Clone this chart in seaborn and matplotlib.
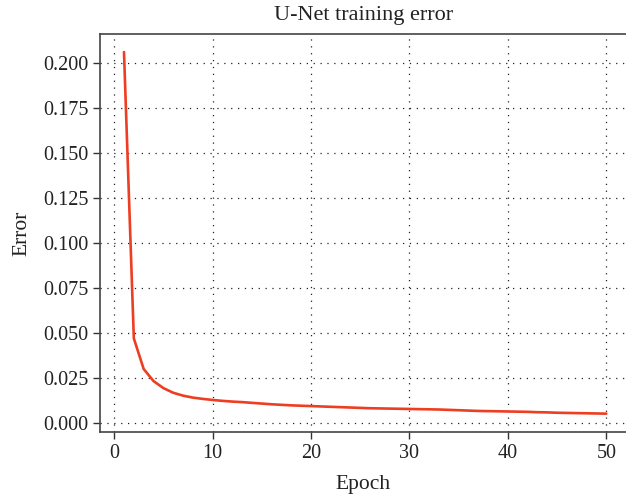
import matplotlib
matplotlib.use("Agg")
import matplotlib.pyplot as plt
import seaborn as sns
import pandas as pd

epochs = list(range(1, 51))
error = [0.206, 0.047, 0.030, 0.0233, 0.0194, 0.0168, 0.0152, 0.0141, 0.0134, 0.0128,
         0.0123, 0.0119, 0.0116, 0.0112, 0.0108, 0.0104, 0.0101, 0.0098, 0.0096, 0.0094,
         0.0092, 0.0090, 0.0088, 0.0086, 0.0084, 0.0082, 0.0081, 0.0080, 0.0079, 0.0078,
         0.0077, 0.0076, 0.0075, 0.0073, 0.0071, 0.0069, 0.0067, 0.0066, 0.0065, 0.0064,
         0.0063, 0.0062, 0.0060, 0.0059, 0.0057, 0.0056, 0.0055, 0.0054, 0.0053, 0.0052]
x_ticks = [0, 10, 20, 30, 40, 50]
y_ticks = [0.000, 0.025, 0.050, 0.075, 0.100, 0.125, 0.150, 0.175, 0.200]

df = pd.DataFrame({"Epoch": epochs, "Error": error})

sns.set_style("ticks")
plt.rcParams['font.family'] = ['Liberation Serif', 'DejaVu Serif']

fig = plt.figure(figsize=(6.26, 4.98), dpi=100)
ax = fig.add_axes([0.16, 0.1325, 0.84, 0.7995])

sns.lineplot(data=df, x="Epoch", y="Error", ax=ax, color="#EE3E22", linewidth=1.9)

ax.set_xlim(-1.42, 52.0)
ax.set_ylim(-0.005, 0.2161)
ax.set_xticks(x_ticks)
ax.set_yticks(y_ticks)
ax.set_yticklabels([f"{v:.3f}" for v in y_ticks])
ax.grid(True, linestyle=(0, (1, 4.5)), color="#222222", linewidth=0.9)

for side in ["left", "bottom", "top"]:
    ax.spines[side].set_color("#444444")
    ax.spines[side].set_linewidth(1.2)
    ax.spines[side].set_visible(True)
ax.spines["right"].set_visible(False)

ax.tick_params(axis="both", direction="out", length=5, width=1.0, color="#333333",
               labelsize=14.5, labelcolor="#222222")
ax.set_xlabel("Epoch", fontsize=15.5, color="#222222", labelpad=9)
ax.set_ylabel("Error", fontsize=15.5, color="#222222", labelpad=8)
ax.set_title("U-Net training error", fontsize=16, color="#222222", pad=10)

fig.savefig("out.png", dpi=100)
